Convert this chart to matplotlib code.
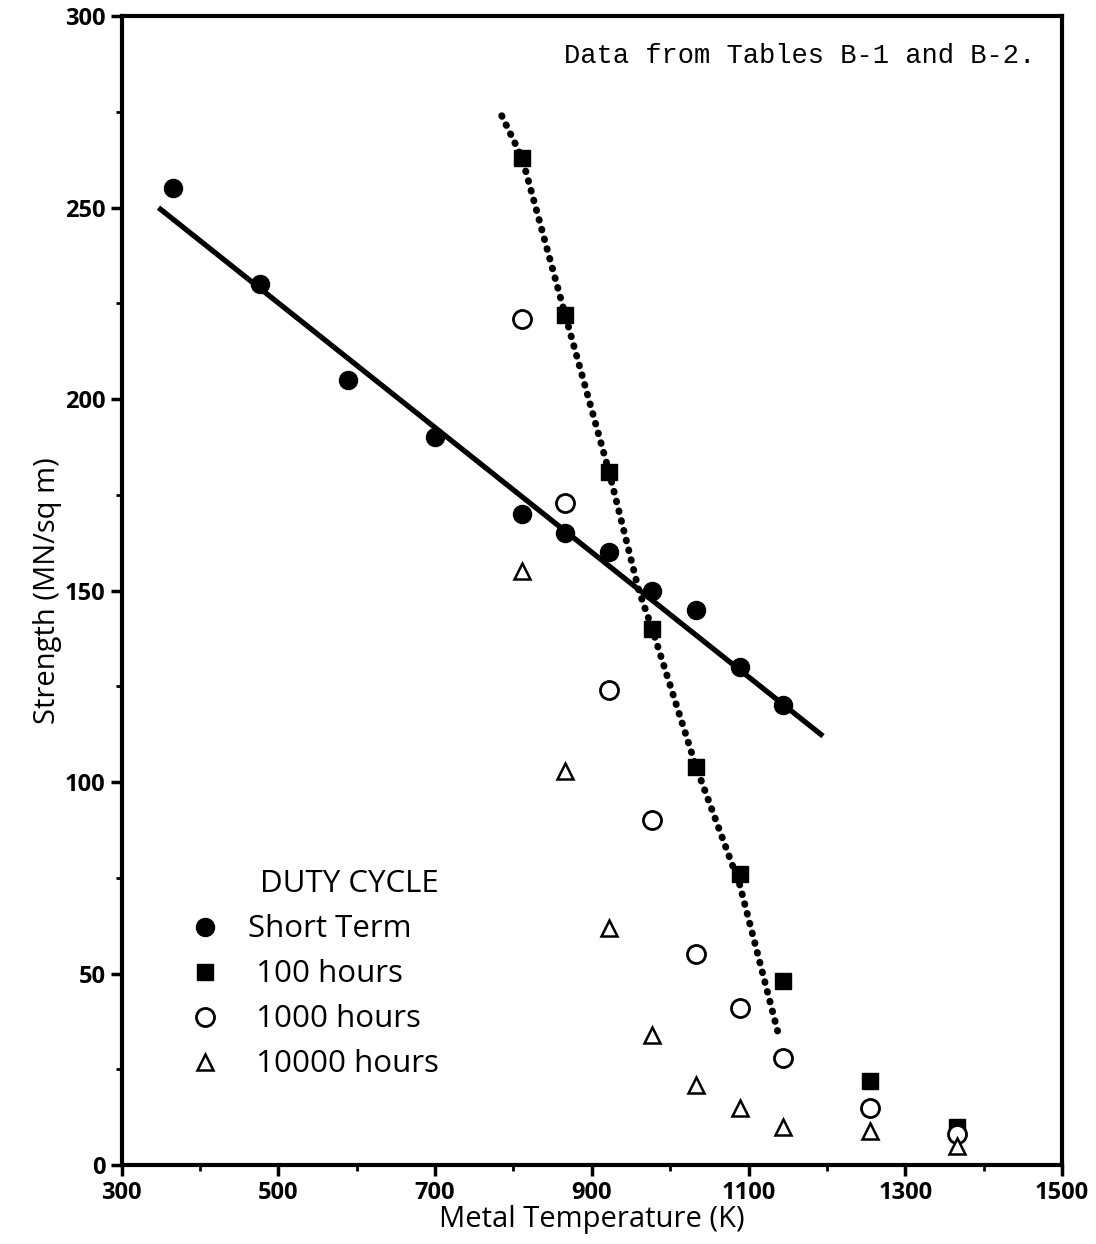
import numpy as np
import matplotlib
matplotlib.use('Agg')
import matplotlib.pyplot as plt

# temperaturas (K)
temps = [366, 477, 589, 700, 811, 866, 922, 977, 1033, 1089, 1144]
temps_hi = [811, 866, 922, 977, 1033, 1089, 1144, 1255, 1366]

short_term = [255, 230, 205, 190, 170, 165, 160, 150, 145, 130, 120]
h100 = [263, 222, 181, 140, 104, 76, 48, 22, 10]
h1000 = [221, 173, 124, 90, 55, 41, 28, 15, 8]
h10000 = [155, 103, 62, 34, 21, 15, 10, 9, 5]

# recta de ajuste (corto plazo)
fit_x = [347, 1195]
fit_y = [250, 112]

# curva punteada (100 horas)
curve_x = [785, 811, 866, 922, 960, 977, 1033, 1089, 1137]
curve_y = [274, 263, 222, 181, 150, 140, 104, 73, 35]

x_ticks = [300, 500, 700, 900, 1100, 1300, 1500]
x_minor = [400, 600, 800, 1000, 1200, 1400]
y_ticks = [0, 50, 100, 150, 200, 250, 300]
y_minor = [25, 75, 125, 175, 225, 275]

plt.rcParams['font.family'] = ['Open Sans', 'DejaVu Sans']

fig = plt.figure(figsize=(10.96, 12.44), dpi=100)
ax = fig.add_axes([0.111, 0.0635, 0.858, 0.9235])

ax.plot(fit_x, fit_y, color='black', lw=3.8, solid_capstyle='butt')
ax.plot(curve_x, curve_y, color='black', lw=5, linestyle=(0, (0.1, 1.35)),
        dash_capstyle='round')

ax.plot(temps, short_term, 'o', color='black', ms=13, label='Short Term')
ax.plot(temps_hi, h100, 's', color='black', ms=12, label=' 100 hours')
ax.plot(temps_hi, h1000, 'o', mfc='white', mec='black', mew=2, ms=13, label=' 1000 hours')
ax.plot(temps_hi, h10000, '^', mfc='white', mec='black', mew=1.8, ms=12, label=' 10000 hours')

ax.set_xlim(300, 1500)
ax.set_ylim(0, 300)
ax.set_xticks(x_ticks)
ax.set_xticks(x_minor, minor=True)
ax.set_yticks(y_ticks)
ax.set_yticks(y_minor, minor=True)
ax.tick_params(which='major', direction='out', length=8, width=2.5, labelsize=17)
ax.tick_params(which='minor', direction='out', length=4, width=2)
for lab in ax.get_xticklabels() + ax.get_yticklabels():
    lab.set_fontweight('bold')
for s in ax.spines.values():
    s.set_linewidth(3)

ax.set_xlabel('Metal Temperature (K)', fontsize=21, labelpad=0)
ax.set_ylabel('Strength (MN/sq m)', fontsize=21, labelpad=2)

ax.text(0.972, 0.977, 'Data from Tables B-1 and B-2.', transform=ax.transAxes,
        ha='right', va='top', fontsize=19.5, family='Liberation Mono')

leg = ax.legend(loc='lower left', bbox_to_anchor=(0.025, 0.05), frameon=False,
                title='DUTY CYCLE', fontsize=22.5, title_fontsize=22.5,
                handletextpad=0.4, labelspacing=0.48, markerscale=1.0)
leg._legend_box.align = 'right'

fig.savefig('out.png', dpi=100)
